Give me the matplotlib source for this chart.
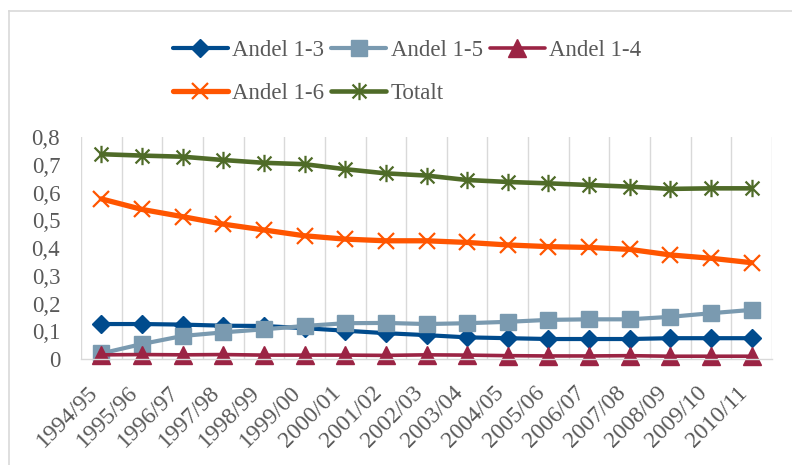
import matplotlib
matplotlib.use("Agg")
import matplotlib.pyplot as plt
from matplotlib.lines import Line2D
from matplotlib.path import Path
from matplotlib.transforms import ScaledTranslation
import numpy as np

years = ["1994/95", "1995/96", "1996/97", "1997/98", "1998/99", "1999/00",
         "2000/01", "2001/02", "2002/03", "2003/04", "2004/05", "2005/06",
         "2006/07", "2007/08", "2008/09", "2009/10", "2010/11"]

andel_1_3 = [0.126, 0.126, 0.124, 0.120, 0.119, 0.111, 0.102, 0.093, 0.086,
             0.078, 0.075, 0.072, 0.072, 0.072, 0.075, 0.075, 0.075]
andel_1_5 = [0.020, 0.054, 0.083, 0.096, 0.107, 0.119, 0.129, 0.130, 0.126,
             0.129, 0.134, 0.141, 0.143, 0.143, 0.152, 0.165, 0.177]
andel_1_4 = [0.015, 0.016, 0.015, 0.016, 0.014, 0.014, 0.014, 0.013, 0.015,
             0.014, 0.012, 0.011, 0.011, 0.012, 0.010, 0.010, 0.010]
andel_1_6 = [0.577, 0.539, 0.513, 0.486, 0.465, 0.444, 0.432, 0.426, 0.426,
             0.420, 0.411, 0.405, 0.402, 0.395, 0.375, 0.363, 0.347]
totalt = [0.738, 0.733, 0.729, 0.717, 0.707, 0.702, 0.684, 0.669, 0.661,
          0.645, 0.638, 0.633, 0.627, 0.621, 0.613, 0.615, 0.615]

y_ticks = [0, 0.1, 0.2, 0.3, 0.4, 0.5, 0.6, 0.7, 0.8]
y_tick_labels = ["0", "0,1", "0,2", "0,3", "0,4", "0,5", "0,6", "0,7", "0,8"]

plt.rcParams["font.family"] = ["Liberation Serif", "DejaVu Serif"]
text_color = "#595959"
grid_color = "#d9d9d9"

# asterisk-style marker: vertical stroke plus two diagonals
star_path = Path(
    [(0, -1), (0, 1), (-0.8, -0.8), (0.8, 0.8), (-0.8, 0.8), (0.8, -0.8)],
    [Path.MOVETO, Path.LINETO, Path.MOVETO, Path.LINETO, Path.MOVETO, Path.LINETO],
)

fig = plt.figure(figsize=(7.92, 4.65), dpi=100)
ax = fig.add_axes([81 / 792, 1 - 359 / 465, (772 - 81) / 792, (359 - 137) / 465])

x = np.arange(len(years))

series = [
    ("Andel 1-3", andel_1_3, "#004b8d", dict(marker="D", markersize=9, lw=3.0)),
    ("Andel 1-5", andel_1_5, "#7a9ab0", dict(marker="s", markersize=11.5, lw=3.0)),
    ("Andel 1-4", andel_1_4, "#9b2444", dict(marker="^", markersize=12.5, lw=2.6)),
    ("Andel 1-6", andel_1_6, "#ff5500", dict(marker="x", markersize=11.5, lw=3.8,
                                            markeredgewidth=1.6)),
    ("Totalt", totalt, "#4f6b28", dict(marker=star_path, markersize=12.5, lw=3.3,
                                       markeredgewidth=1.6)),
]

handles = {}
for label, vals, color, kw in series:
    (h,) = ax.plot(x, vals, color=color, markerfacecolor=color,
                   markeredgecolor=color, label=label,
                   solid_capstyle="round", clip_on=False, **kw)
    handles[label] = h

ax.set_xlim(-0.5, len(years) - 0.5)
ax.set_ylim(0, 0.8)

# vertical category separators
ax.set_xticks(np.arange(-0.5, len(years)), minor=True)
ax.grid(True, which="minor", axis="x", color=grid_color, lw=1.0)
ax.grid(False, which="major")
ax.tick_params(axis="x", which="minor", length=0)
for side in ["top", "left", "right"]:
    ax.spines[side].set_visible(False)
ax.spines["bottom"].set_color(grid_color)
ax.spines["bottom"].set_linewidth(1.0)
ax.set_axisbelow(True)

ax.set_yticks(y_ticks)
ax.set_yticklabels(y_tick_labels)
ax.tick_params(axis="y", length=0, pad=15, labelsize=16.5, labelcolor=text_color)

ax.set_xticks(x)
ax.set_xticklabels(years, rotation=45, ha="right", va="center",
                   rotation_mode="anchor")
ax.tick_params(axis="x", which="major", length=0, pad=22, labelsize=17,
               labelcolor=text_color)
shift = ScaledTranslation(-7 / 100, 0, fig.dpi_scale_trans)
for lbl in ax.get_xticklabels():
    lbl.set_transform(lbl.get_transform() + shift)

order = ["Andel 1-3", "Andel 1-6", "Andel 1-5", "Totalt", "Andel 1-4"]
leg = fig.legend([handles[k] for k in order], order, ncol=3, loc="center",
                 bbox_to_anchor=(407 / 792, 1 - 72 / 465), frameon=False,
                 fontsize=16.5, handlelength=2.4, handletextpad=0.2,
                 columnspacing=0.3, labelspacing=0.95, borderpad=0)
for t in leg.get_texts():
    t.set_color(text_color)

# light frame around the chart area
fig.add_artist(Line2D([9 / 792, 9 / 792], [0, 1 - 11 / 465],
                      transform=fig.transFigure, color=grid_color, lw=1.2))
fig.add_artist(Line2D([9 / 792, 1], [1 - 11 / 465, 1 - 11 / 465],
                      transform=fig.transFigure, color=grid_color, lw=1.2))

fig.savefig("out.png", dpi=100)
